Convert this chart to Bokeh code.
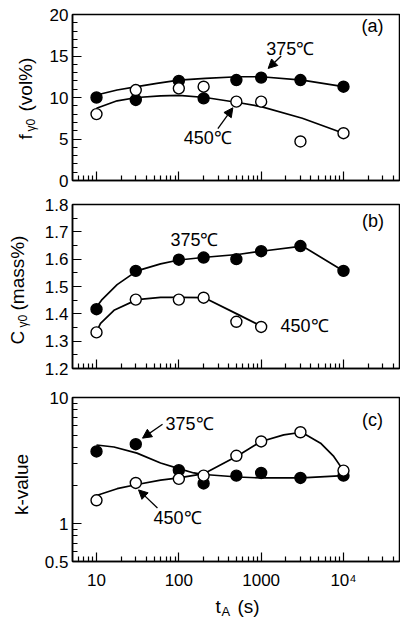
import math
from bokeh.plotting import figure
from bokeh.layouts import column, row
from bokeh.models import FixedTicker, Label, Arrow, NormalHead, Range1d
from bokeh.core.properties import value
from bokeh.embed import file_html
from bokeh.resources import INLINE

FONT = "Liberation Sans"

# ---------------- data ----------------
t_A = [10, 30, 100, 200, 500, 1000, 3000, 10000]
t_A_C450 = [10, 30, 100, 200, 500, 1000]

f_375 = [10.0, 9.7, 12.0, 9.9, 12.1, 12.4, 12.1, 11.3]
f_450 = [8.0, 10.9, 11.1, 11.3, 9.5, 9.5, 4.7, 5.7]
C_375 = [1.417, 1.557, 1.598, 1.606, 1.600, 1.629, 1.648, 1.557]
C_450 = [1.332, 1.452, 1.452, 1.459, 1.371, 1.352]
k_375 = [3.73, 4.26, 2.65, 2.08, 2.40, 2.52, 2.30, 2.40]
k_450 = [1.53, 2.10, 2.26, 2.40, 3.45, 4.48, 5.30, 2.63]

# hand-drawn trend curves of the original
fc375_t = [10, 17.8, 31, 54, 100, 210, 520, 1000, 3160, 10000]
fc375 = [10.3, 10.9, 11.3, 11.7, 12.1, 12.3, 12.5, 12.5, 12.1, 11.3]
fc450_t = [10, 17.8, 31, 60, 100, 210, 520, 1000, 3160, 10000]
fc450 = [8.7, 9.6, 10.0, 10.2, 10.25, 10.0, 9.4, 8.9, 7.5, 5.7]
Cc375_t = [10, 11.5, 17.8, 31, 60, 100, 210, 520, 1000, 3160, 10000]
Cc375 = [1.425, 1.45, 1.507, 1.557, 1.583, 1.597, 1.607, 1.617, 1.629, 1.648, 1.557]
Cc450_t = [10, 11.2, 16.3, 31, 60, 100, 204, 520, 1000]
Cc450 = [1.335, 1.365, 1.413, 1.452, 1.46, 1.46, 1.459, 1.398, 1.355]
kc375_t = [10, 16.3, 31, 60, 100, 152, 204, 520, 1000, 3100, 10000]
kc375 = [4.2, 4.05, 3.62, 3.02, 2.73, 2.52, 2.45, 2.34, 2.30, 2.30, 2.40]
kc450_t = [10, 17.8, 31, 60, 100, 204, 520, 1000, 1880, 3100, 5270, 7620, 10000]
kc450 = [1.67, 1.89, 2.04, 2.21, 2.30, 2.49, 3.45, 4.48, 5.05, 5.30, 4.34, 3.41, 2.63]

x_major = [10, 100, 1000, 10000]
x_tick_labels = {10: "10", 100: "100", 1000: "1000", 10000: "10\u2074"}
fa_ticks = [0, 5, 10, 15, 20]
Cb_ticks = [1.2, 1.3, 1.4, 1.5, 1.6, 1.7, 1.8]
kc_ticks = [0.5, 1, 10]
kc_tick_labels = {0.5: "0.5", 1: "1", 10: "10"}

X_RANGE = (5.11, 47900)
W_TOTAL, H_TOTAL, STRIP_W, STRIP_H = 400, 620, 40, 28
FRAME_LEFT = 72


def minor_log(lo_exp, hi_exp):
    out = []
    for e in range(lo_exp, hi_exp + 1):
        for m in range(2, 10):
            out.append(m * 10 ** e)
    return out


def make_fig(height, top, bottom, y_range, y_log=False):
    p = figure(width=W_TOTAL - STRIP_W, height=height, x_axis_type="log",
               y_axis_type="log" if y_log else "linear",
               x_range=Range1d(*X_RANGE), y_range=Range1d(*y_range),
               output_backend="svg", toolbar_location=None, title=None,
               min_border_left=FRAME_LEFT - STRIP_W, min_border_right=1,
               min_border_top=top, min_border_bottom=bottom)
    p.xgrid.visible = False
    p.ygrid.visible = False
    p.outline_line_color = "black"
    p.outline_line_width = 1.5
    p.outline_line_alpha = 1
    p.background_fill_color = "white"
    p.border_fill_color = "white"
    for ax in (p.xaxis[0], p.yaxis[0]):
        ax.major_tick_in = 9
        ax.major_tick_out = 0
        ax.minor_tick_in = 5
        ax.minor_tick_out = 0
        ax.axis_line_color = "black"
        ax.axis_line_width = 1.5
        ax.major_tick_line_color = "black"
        ax.major_tick_line_width = 1.2
        ax.minor_tick_line_color = "black"
        ax.minor_tick_line_width = 1.2
        ax.major_label_text_font = FONT
        ax.major_label_text_font_size = "17px"
        ax.major_label_text_color = "black"
    p.yaxis.major_label_standoff = 4
    p.xaxis.ticker = FixedTicker(ticks=x_major, minor_ticks=[v for v in minor_log(0, 4) if X_RANGE[0] < v < X_RANGE[1]])
    return p


def blank_fig(width, height, xr, yr):
    p = figure(width=width, height=height, x_range=Range1d(*xr), y_range=Range1d(*yr),
               output_backend="svg", toolbar_location=None, title=None,
               x_axis_location=None, y_axis_location=None,
               min_border_left=0, min_border_right=0, min_border_top=0, min_border_bottom=0)
    p.xgrid.visible = False
    p.ygrid.visible = False
    p.outline_line_color = None
    p.background_fill_color = "white"
    p.border_fill_color = "white"
    return p


def hide_x_labels(p):
    p.xaxis.major_label_overrides = {v: " " for v in x_major}
    p.xaxis.major_label_text_font_size = "2px"
    p.xaxis.major_label_standoff = 0


def txt(p, x, y, s, size="18px", align="left", baseline="middle"):
    p.add_layout(Label(x=x, y=y, text=s, text_font=FONT, text_font_size=size, text_color="black",
                       text_align=align, text_baseline=baseline))


def gtext(p, x, y, s, size, angle=0.0, align="left"):
    p.text(x=[x], y=[y], text=[s], angle=angle, text_font=value(FONT), text_font_size=value(size),
           text_color="black", text_align=align, text_baseline="middle")


def arrow(p, x0, y0, x1, y1):
    p.add_layout(Arrow(x_start=x0, y_start=y0, x_end=x1, y_end=y1, line_color="black", line_width=1.3,
                       end=NormalHead(size=9, fill_color="black", line_color="black", line_width=1)))


def series(p, t, yv, filled):
    p.scatter(t, yv, size=11, marker="circle", line_color="black", line_width=1.4,
              fill_color="black" if filled else "white")


def curve(p, t, yv):
    p.line(t, yv, line_color="black", line_width=1.7)


ROT = math.pi / 2

# ---------------- (a) ----------------
pa = make_fig(192, 14, 12, (0, 20))
pa.yaxis.ticker = FixedTicker(ticks=fa_ticks, minor_ticks=list(range(1, 20)))
hide_x_labels(pa)
curve(pa, fc375_t, fc375)
curve(pa, fc450_t, fc450)
series(pa, t_A, f_375, True)
series(pa, t_A, f_450, False)
txt(pa, 1150, 15.8, "375\u2103")
arrow(pa, 1750, 15.0, 1216, 13.5)
txt(pa, 115, 5.1, "450\u2103")
arrow(pa, 298, 6.24, 453, 8.76)
txt(pa, 16560, 18.6, "(a)")

# ---------------- (b) ----------------
pb = make_fig(193, 12, 17, (1.2, 1.8))
pb.yaxis.ticker = FixedTicker(ticks=Cb_ticks, minor_ticks=[round(1.25 + 0.1 * i, 2) for i in range(6)])
pb.yaxis.major_label_overrides = {v: f"{v:.1f}" for v in Cb_ticks}
hide_x_labels(pb)
curve(pb, Cc375_t, Cc375)
curve(pb, Cc450_t, Cc450)
series(pb, t_A, C_375, True)
series(pb, t_A_C450, C_450, False)
txt(pb, 79, 1.669, "375\u2103")
txt(pb, 1722, 1.354, "450\u2103")
txt(pb, 16800, 1.738, "(b)")

# ---------------- (c) ----------------
pc = make_fig(207, 12, 29, (0.5, 10), y_log=True)
pc.yaxis.ticker = FixedTicker(ticks=kc_ticks, minor_ticks=[0.6, 0.7, 0.8, 0.9] + minor_log(0, 0))
pc.yaxis.major_label_overrides = kc_tick_labels
pc.xaxis.major_label_overrides = x_tick_labels
pc.xaxis.major_label_standoff = 9
curve(pc, kc375_t, kc375)
curve(pc, kc450_t, kc450)
series(pc, t_A, k_375, True)
series(pc, t_A, k_450, False)
txt(pc, 69, 6.2, "375\u2103")
arrow(pc, 63.4, 6.13, 36.2, 4.76)
txt(pc, 49.3, 1.11, "450\u2103")
arrow(pc, 55, 1.33, 32.4, 1.85)
txt(pc, 16800, 6.59, "(c)")

# ---------------- axis titles (page-pixel strips) ----------------
PANELS_H = 192 + 193 + 207
left = blank_fig(STRIP_W, PANELS_H, (0, STRIP_W), (PANELS_H, 0))
gtext(left, 25, 139, "f", "19px", ROT)
gtext(left, 30, 131, "\u03b30", "12px", ROT)
gtext(left, 25, 111, "(vol%)", "19px", ROT)
gtext(left, 17, 344, "C", "19px", ROT)
gtext(left, 22, 327, "\u03b30", "12px", ROT)
gtext(left, 17, 310, "(mass%)", "19px", ROT)
gtext(left, 21, 484, "k-value", "19px", ROT, align="center")

bottom = blank_fig(W_TOTAL, STRIP_H, (0, W_TOTAL), (H_TOTAL, PANELS_H))
gtext(bottom, 215, 606, "t", "19px")
gtext(bottom, 221, 611, "A", "13px")
gtext(bottom, 237, 606, "(s)", "19px")

layout = column(row(left, column(pa, pb, pc)), bottom)
open("out.html", "w").write(file_html(layout, INLINE))
